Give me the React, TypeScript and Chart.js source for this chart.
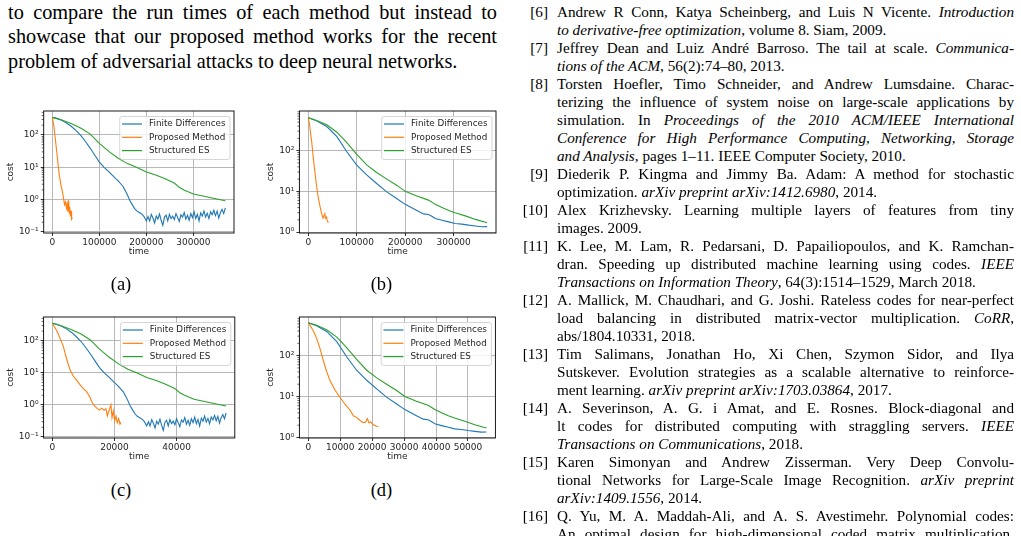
import React, { useEffect, useRef } from "react";
import { Chart, registerables } from "chart.js";

Chart.register(...registerables);

// ---------- chart data ----------
const seriesNames = ["Finite Differences", "Proposed Method", "Structured ES"];
const seriesColors = ["#1f77b4", "#ff7f0e", "#2ca02c"];

// Panels (a) and (c): same cost traces, different time axes
const fdCostAC = [
  350, 325, 285, 235, 185, 138, 98, 64, 40, 24, 14.5, 10, 7.4, 5.2, 3.8, 2.6,
  1.9, 1.36, 0.93, 0.7, 0.53, 0.44, 0.4, 0.36, 0.3, 0.22,
  0.3, 0.22, 0.35, 0.27, 0.19, 0.31, 0.25, 0.36, 0.23, 0.16, 0.29, 0.33, 0.22, 0.35, 0.26, 0.31,
  0.24, 0.37, 0.28, 0.21, 0.34, 0.29, 0.4, 0.25, 0.33, 0.23, 0.37, 0.28, 0.42, 0.26, 0.35, 0.22,
  0.39, 0.31, 0.45, 0.29, 0.38, 0.26, 0.42, 0.34, 0.47, 0.32, 0.44, 0.27, 0.4, 0.5, 0.37, 0.56,
];
const fdTimeA = [
  0, 10000, 20000, 30000, 40000, 50000, 60000, 70000, 80000, 90000, 100000, 110000, 120000, 130000, 140000, 150000,
  155000, 160000, 165000, 170000, 175000, 180000, 185000, 190000, 195000, 200000,
  203500, 207000, 210500, 214000, 217500, 221000, 224500, 228000, 231500, 235000, 238500, 242000, 245500, 249000, 252500, 256000,
  259500, 263000, 266500, 270000, 273500, 277000, 280500, 284000, 287500, 291000, 294500, 298000, 301500, 305000, 308500, 312000,
  315500, 319000, 322500, 326000, 329500, 333000, 336500, 340000, 343500, 347000, 350500, 354000, 357500, 361000, 364500, 368000,
];
const fdTimeC = [
  0, 1520, 3040, 4560, 6080, 7600, 9110, 10630, 12150, 13670, 15190, 16710, 18230, 19750, 21270, 22790,
  23550, 24300, 25060, 25820, 26580, 27340, 28100, 28860, 29620, 30380,
  30910, 31440, 31980, 32510, 33040, 33570, 34100, 34630, 35170, 35700, 36230, 36760, 37290, 37820, 38360, 38890,
  39420, 39950, 40480, 41010, 41550, 42080, 42610, 43140, 43670, 44200, 44740, 45270, 45800, 46330, 46860, 47390,
  47930, 48460, 48990, 49520, 50050, 50580, 51120, 51650, 52180, 52710, 53240, 53780, 54310, 54840, 55370, 55900,
];
const esCostAC = [350, 290, 225, 165, 108, 55, 31, 19, 13, 9.8, 7.1, 5.8, 4.4, 3.2, 2.4, 2.0, 1.5, 1.3, 1.13, 0.98, 0.92];
const esTimeA = [0, 20000, 40000, 60000, 80000, 100000, 120000, 140000, 160000, 180000, 200000, 220000, 240000, 260000, 270000, 280000, 300000, 320000, 340000, 360000, 368000];
const esTimeC = [0, 3040, 6080, 9110, 12150, 15190, 18230, 21270, 24300, 27340, 30380, 33420, 36460, 39490, 41010, 42530, 45570, 48610, 51650, 54680, 55900];
const pmTimeA = [0, 3000, 6000, 9000, 12000, 15000, 18000, 21000, 24000, 26000, 28000, 30000, 31500, 33000, 34500, 36000, 37000, 38500, 40000, 41000, 42500];
const pmCostA = [350, 200, 85, 33, 13, 5.5, 3.0, 1.9, 1.05, 0.7, 0.85, 0.55, 0.75, 0.42, 0.95, 0.38, 0.6, 0.3, 0.45, 0.25, 0.28];
const pmTimeC = [0, 1400, 2470, 3540, 4610, 5680, 6760, 7830, 8900, 9970, 11040, 11900, 12650, 13400, 14260, 15120, 15870, 16620, 17270, 17700, 18340, 18870, 19200, 19620, 20050, 20480, 20910, 21340, 21770, 22090];
const pmCostC = [350, 209, 121, 67, 27, 12.6, 7.8, 5.9, 4.3, 3.2, 2.6, 1.9, 1.3, 0.96, 0.81, 0.69, 0.79, 0.68, 0.76, 0.45, 0.72, 1.0, 0.4, 0.65, 0.32, 0.45, 0.28, 0.37, 0.25, 0.29];

// Panels (b) and (d)
const fdCostBD = [640, 540, 390, 220, 95, 44, 25, 15.6, 9.7, 6.6, 4.8, 3.4, 2.8, 2.7, 2.45, 2.15, 1.95, 1.78, 1.62, 1.57, 1.48, 1.41, 1.35, 1.36];
const fdTimeB = [0, 17000, 38000, 59000, 79000, 100000, 121000, 141000, 162000, 183000, 200000, 224000, 238000, 248000, 255000, 262000, 276000, 290000, 303000, 317000, 331000, 345000, 358000, 369000];
const fdTimeD = [0, 2570, 5750, 8920, 11950, 15120, 18300, 21320, 24500, 27670, 30240, 33870, 35990, 37500, 38560, 39620, 41730, 43850, 45810, 47930, 50050, 52160, 54130, 55800];
const esCostBD = [640, 550, 430, 283, 160, 81, 44, 29, 20, 14, 10, 7.7, 6.1, 4.8, 4.0, 3.4, 3.0, 2.5, 2.05, 1.7];
const esTimeB = [0, 17000, 38000, 59000, 79000, 100000, 121000, 141000, 162000, 183000, 200000, 224000, 248000, 262000, 276000, 290000, 303000, 324000, 345000, 369000];
const esTimeD = [0, 2570, 5750, 8920, 11950, 15120, 18300, 21320, 24500, 27670, 30240, 33870, 37500, 39620, 41730, 43850, 45810, 48990, 52160, 55800];
const pmTimeB = [0, 2070, 4140, 6900, 10300, 13800, 17200, 20700, 24100, 27600, 30300, 32400, 33800, 35200, 37200, 39300, 41400];
const pmCostB = [640, 470, 295, 166, 65, 28, 13, 6.9, 4.3, 2.8, 2.2, 2.6, 3.0, 2.2, 2.35, 1.87, 1.7];
const pmTimeD = [0, 1570, 2610, 3650, 4700, 5740, 6790, 8350, 9920, 11480, 13050, 14090, 15140, 16180, 17220, 17950, 18480, 19000, 19520, 20350, 21190, 21920];
const pmCostD = [640, 407, 265, 150, 76, 41, 24.5, 14.5, 9.6, 6.5, 4.7, 3.4, 3.1, 2.6, 2.3, 2.35, 2.9, 2.3, 2.4, 2.05, 1.9, 1.85];

// tick labels
const xTicksAB = [0, 100000, 200000, 300000];
const xTicksC = [0, 20000, 40000];
const xTicksD = [0, 10000, 20000, 30000, 40000, 50000];
const yTickValues = [0.1, 1, 10, 100];
const yTickTexts = ["10\u207B\u00B9", "10\u2070", "10\u00B9", "10\u00B2"];

// ---------- layout of the four panels ----------
const panels: any[] = [
  {
    id: "a", left: 0, top: 100, w: 250, h: 175, yW: 43.7, padTop: 11, padRight: 16, xH: 42,
    xMin: -18400, xMax: 386400, yMin: 0.093, yMax: 550, xTicks: xTicksAB, costPad: 5.6, timePad: 17.9,
    series: [[fdTimeA, fdCostAC], [pmTimeA, pmCostA], [esTimeA, esCostAC]],
  },
  {
    id: "b", left: 250, top: 100, w: 250, h: 175, yW: 49.4, padTop: 11, padRight: 4, xH: 42,
    xMin: -18450, xMax: 387450, yMin: 0.95, yMax: 940, xTicks: xTicksAB, costPad: 15.3, timePad: 17.9,
    series: [[fdTimeB, fdCostBD], [pmTimeB, pmCostB], [esTimeB, esCostBD]],
  },
  {
    id: "c", left: 0, top: 305, w: 250, h: 175, yW: 43.6, padTop: 12, padRight: 15.2, xH: 42,
    xMin: -2795, xMax: 58695, yMin: 0.093, yMax: 550, xTicks: xTicksC, costPad: 5.6, timePad: 17.9,
    series: [[fdTimeC, fdCostAC], [pmTimeC, pmCostC], [esTimeC, esCostAC]],
  },
  {
    id: "d", left: 250, top: 305, w: 250, h: 175, yW: 49.4, padTop: 12, padRight: 4.6, xH: 42,
    xMin: -2790, xMax: 58590, yMin: 0.97, yMax: 880, xTicks: xTicksD, costPad: 15.3, timePad: 17.9,
    series: [[fdTimeD, fdCostBD], [pmTimeD, pmCostD], [esTimeD, esCostBD]],
  },
];

const tickFont = { family: '"DejaVu Sans", sans-serif', size: 9 };
const inkColor = "#262626";

const mplPlugin = {
  id: "mplDecor",
  afterDatasetsDraw(chart: any) {
    const { ctx, chartArea: a, scales } = chart;
    const y = scales.y;
    ctx.save();
    // minor log ticks
    ctx.strokeStyle = "#000";
    ctx.lineWidth = 0.6;
    for (let d = -2; d <= 3; d++) {
      for (let k = 2; k <= 9; k++) {
        const v = k * Math.pow(10, d);
        if (v < y.min || v > y.max) continue;
        const py = y.getPixelForValue(v);
        ctx.beginPath();
        ctx.moveTo(a.left - 2, py);
        ctx.lineTo(a.left, py);
        ctx.stroke();
      }
    }
    // frame
    ctx.lineWidth = 0.9;
    ctx.strokeStyle = "#000";
    ctx.strokeRect(a.left, a.top, a.right - a.left, a.bottom - a.top);
    // legend
    ctx.font = '8.8px "DejaVu Sans", sans-serif';
    let maxW = 0;
    seriesNames.forEach((n) => { maxW = Math.max(maxW, ctx.measureText(n).width); });
    const bw = 29.3 + maxW + 4.5;
    const bh = 43;
    const bx = a.right - 4 - bw;
    const by = a.top + 5.5;
    ctx.beginPath();
    if (ctx.roundRect) ctx.roundRect(bx, by, bw, bh, 2.5); else ctx.rect(bx, by, bw, bh);
    ctx.fillStyle = "rgba(255,255,255,0.8)";
    ctx.fill();
    ctx.strokeStyle = "#cccccc";
    ctx.lineWidth = 0.8;
    ctx.stroke();
    seriesNames.forEach((n, i) => {
      const cy = by + 7.5 + i * 13.3;
      ctx.strokeStyle = seriesColors[i];
      ctx.lineWidth = 1.2;
      ctx.beginPath();
      ctx.moveTo(bx + 2.3, cy);
      ctx.lineTo(bx + 22.3, cy);
      ctx.stroke();
      ctx.fillStyle = inkColor;
      ctx.textBaseline = "middle";
      ctx.textAlign = "left";
      ctx.fillText(n, bx + 29.3, cy);
    });
    ctx.restore();
  },
};

function Panel({ cfg }: { cfg: any }) {
  const ref = useRef<HTMLCanvasElement>(null);
  useEffect(() => {
    const chart = new Chart(ref.current as HTMLCanvasElement, {
      type: "line",
      data: {
        datasets: cfg.series.map((s: any, i: number) => ({
          label: seriesNames[i],
          data: s[0].map((x: number, j: number) => ({ x, y: s[1][j] })),
          borderColor: seriesColors[i],
          backgroundColor: seriesColors[i],
          borderWidth: 1.1,
          pointRadius: 0,
          fill: false,
          tension: 0,
          order: 2 - i,
        })),
      },
      options: {
        animation: false,
        responsive: false,
        maintainAspectRatio: false,
        layout: { autoPadding: false, padding: { left: 0, top: cfg.padTop, right: cfg.padRight, bottom: 0 } },
        plugins: { legend: { display: false }, tooltip: { enabled: false } },
        scales: {
          x: {
            type: "linear",
            min: cfg.xMin,
            max: cfg.xMax,
            afterFit: (s: any) => { s.height = cfg.xH; },
            afterBuildTicks: (s: any) => { s.ticks = cfg.xTicks.map((v: number) => ({ value: v })); },
            ticks: { autoSkip: false, maxRotation: 0, padding: 1, font: tickFont, color: inkColor, callback: (v: any) => String(v) },
            grid: { color: "rgba(176,176,176,0.9)", lineWidth: 1, tickLength: 3, tickColor: "#000", tickWidth: 0.8 },
            border: { display: false },
            title: { display: true, text: "time", font: tickFont, color: inkColor, padding: { top: 0, bottom: cfg.timePad } },
          },
          y: {
            type: "logarithmic",
            min: cfg.yMin,
            max: cfg.yMax,
            afterFit: (s: any) => { s.width = cfg.yW; },
            afterBuildTicks: (s: any) => {
              s.ticks = yTickValues.filter((v) => v >= cfg.yMin && v <= cfg.yMax).map((v) => ({ value: v }));
            },
            ticks: {
              autoSkip: false, padding: 2, font: tickFont, color: inkColor,
              callback: (v: any) => { const i = yTickValues.indexOf(v); return i >= 0 ? yTickTexts[i] : ""; },
            },
            grid: { color: "rgba(176,176,176,0.9)", lineWidth: 1, tickLength: 3, tickColor: "#000", tickWidth: 0.8 },
            border: { display: false },
            title: { display: true, text: "cost", font: tickFont, color: inkColor, padding: { top: cfg.costPad, bottom: 0 } },
          },
        },
      } as any,
      plugins: [mplPlugin],
    });
    return () => chart.destroy();
  }, []);
  return (
    <canvas
      ref={ref}
      width={cfg.w}
      height={cfg.h}
      style={{ position: "absolute", left: cfg.left, top: cfg.top, width: cfg.w, height: cfg.h }}
    />
  );
}

// ---------- text ----------
const leftLines = [
  "to compare the run times of each method but instead to",
  "showcase that our proposed method works for the recent",
  "problem of adversarial attacks to deep neural networks.",
];

const refs: { n: string; lines: string[]; cont?: boolean }[] = [
  { n: "[6]", lines: ["Andrew R Conn, Katya Scheinberg, and Luis N Vicente. *Introduction*", "*to derivative-free optimization*, volume 8. Siam, 2009."] },
  { n: "[7]", lines: ["Jeffrey Dean and Luiz Andr\u00E9 Barroso. The tail at scale. *Communica-*", "*tions of the ACM*, 56(2):74\u201380, 2013."] },
  { n: "[8]", lines: ["Torsten Hoefler, Timo Schneider, and Andrew Lumsdaine. Charac-", "terizing the influence of system noise on large-scale applications by", "simulation. In *Proceedings of the 2010 ACM/IEEE International*", "*Conference for High Performance Computing, Networking, Storage*", "*and Analysis*, pages 1\u201311. IEEE Computer Society, 2010."] },
  { n: "[9]", lines: ["Diederik P. Kingma and Jimmy Ba. Adam: A method for stochastic", "optimization. *arXiv preprint arXiv:1412.6980*, 2014."] },
  { n: "[10]", lines: ["Alex Krizhevsky. Learning multiple layers of features from tiny", "images. 2009."] },
  { n: "[11]", lines: ["K. Lee, M. Lam, R. Pedarsani, D. Papailiopoulos, and K. Ramchan-", "dran. Speeding up distributed machine learning using codes. *IEEE*", "*Transactions on Information Theory*, 64(3):1514\u20131529, March 2018."] },
  { n: "[12]", lines: ["A. Mallick, M. Chaudhari, and G. Joshi. Rateless codes for near-perfect", "load balancing in distributed matrix-vector multiplication. *CoRR*,", "abs/1804.10331, 2018."] },
  { n: "[13]", lines: ["Tim Salimans, Jonathan Ho, Xi Chen, Szymon Sidor, and Ilya", "Sutskever. Evolution strategies as a scalable alternative to reinforce-", "ment learning. *arXiv preprint arXiv:1703.03864*, 2017."] },
  { n: "[14]", lines: ["A. Severinson, A. G. i Amat, and E. Rosnes. Block-diagonal and", "lt codes for distributed computing with straggling servers. *IEEE*", "*Transactions on Communications*, 2018."] },
  { n: "[15]", lines: ["Karen Simonyan and Andrew Zisserman. Very Deep Convolu-", "tional Networks for Large-Scale Image Recognition. *arXiv preprint*", "*arXiv:1409.1556*, 2014."] },
  { n: "[16]", lines: ["Q. Yu, M. A. Maddah-Ali, and A. S. Avestimehr. Polynomial codes:", "An optimal design for high-dimensional coded matrix multiplication."], cont: true },
];

function TextLine({ text, justify, style }: { text: string; justify: boolean; style: any }) {
  const parts = text.split("*");
  return (
    <div
      style={{
        position: "absolute",
        whiteSpace: "nowrap",
        textAlign: justify ? "justify" : "left",
        textAlignLast: justify ? "justify" : "left",
        ...style,
      }}
    >
      {parts.map((t, i) => (i % 2 ? <i key={i}>{t}</i> : <span key={i}>{t}</span>))}
    </div>
  );
}

function References() {
  const out: any[] = [];
  let row = 0;
  const lh = 18;
  const top0 = 3.4;
  refs.forEach((r) => {
    out.push(
      <div key={r.n} style={{ position: "absolute", left: 497, width: 51, top: top0 + row * lh, lineHeight: lh + "px", textAlign: "right", whiteSpace: "nowrap" }}>
        {r.n}
      </div>
    );
    r.lines.forEach((l, i) => {
      const last = i === r.lines.length - 1 && !r.cont;
      out.push(
        <TextLine key={r.n + "-" + i} text={l} justify={!last} style={{ left: 557, width: 457, top: top0 + row * lh, lineHeight: lh + "px" }} />
      );
      row++;
    });
  });
  return <div style={{ position: "absolute", left: 0, top: 0, fontSize: 15.2 }}>{out}</div>;
}

const captions = [
  { t: "(a)", x: 121, y: 274.5 },
  { t: "(b)", x: 381.5, y: 274.5 },
  { t: "(c)", x: 121, y: 480.5 },
  { t: "(d)", x: 381.5, y: 480.5 },
];

export default function App() {
  return (
    <div
      style={{
        position: "fixed", left: 0, top: 0, width: 1021, height: 536, overflow: "hidden",
        background: "#fff", color: "#000", fontFamily: '"Liberation Serif", "Times New Roman", serif',
      }}
    >
      <div style={{ position: "absolute", left: 0, top: 0, fontSize: 20.3 }}>
        {leftLines.map((l, i) => (
          <TextLine key={i} text={l} justify={i < leftLines.length - 1} style={{ left: 8, width: 489, top: i * 24.4, lineHeight: "24.4px" }} />
        ))}
      </div>
      {panels.map((p) => (
        <Panel key={p.id} cfg={p} />
      ))}
      {captions.map((c) => (
        <div key={c.t} style={{ position: "absolute", left: c.x - 30, width: 60, top: c.y, fontSize: 18.5, lineHeight: "18px", textAlign: "center" }}>
          {c.t}
        </div>
      ))}
      <References />
    </div>
  );
}
